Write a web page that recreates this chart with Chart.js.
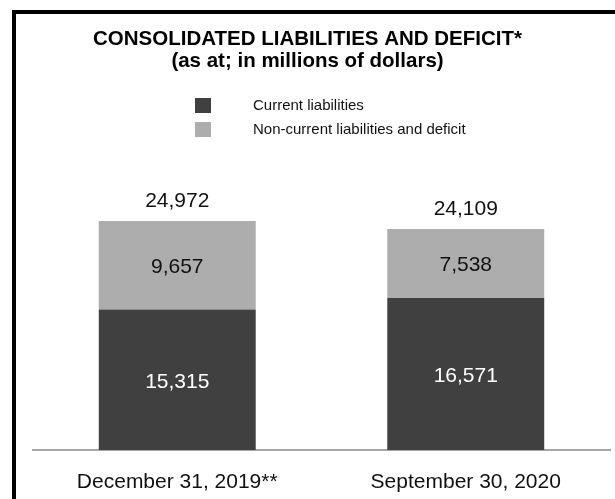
<!DOCTYPE html>
<html>
<head>
<meta charset="utf-8">
<script src="https://cdn.jsdelivr.net/npm/chart.js@4/dist/chart.umd.min.js"></script>
<style>
    body { margin: 0; overflow: hidden; background: #fff; }
    #frame {
        position: absolute; left: 12px; top: 10px;
        width: 640px; height: 520px;
        border-left: 4px solid #000; border-top: 4px solid #000;
    }
    #wrap { position: absolute; left: 0; top: 0; width: 615px; height: 499px; }
</style>
</head>
<body>
<div id="frame"></div>
<div id="wrap"><canvas id="barChart"></canvas></div>
<script>

// figures in millions of dollars
let dates = ["December 31, 2019**", "September 30, 2020"];
let currentLiab = [15315, 16571];
let nonCurrentLiab = [9657, 7538];
let seriesNames = ["Current liabilities", "Non-current liabilities and deficit"];
let seriesColors = ["#404040", "#adadad"];
let labelColors = ["#ffffff", "#111111"];
let titleLines = ["CONSOLIDATED LIABILITIES AND DEFICIT*", "(as at; in millions of dollars)"];

const FONT = "'Liberation Sans', Arial, Helvetica, sans-serif";

function fmt(v){
    return v.toLocaleString("en-US");
}

// empty side axes only used to reserve room left/right of the bars
function fixedWidth(w){
    return function(scale){ scale.width = w; };
}

// numbers inside each segment + total on top of each stack
const valueLabels = {
    id: "valueLabels",
    afterDatasetsDraw: function(chart){
        let ctx = chart.ctx;
        ctx.save();
        ctx.font = "21px " + FONT;
        ctx.textAlign = "center";
        ctx.textBaseline = "middle";

        chart.data.datasets.forEach(function(ds, i){
            let meta = chart.getDatasetMeta(i);
            meta.data.forEach(function(bar, j){
                let mid = (bar.y + bar.base) / 2;
                ctx.fillStyle = labelColors[i];
                ctx.fillText(fmt(ds.data[j]), bar.x, mid + 2);
            });
        });

        let lastMeta = chart.getDatasetMeta(chart.data.datasets.length - 1);
        lastMeta.data.forEach(function(bar, j){
            let total = 0;
            chart.data.datasets.forEach(function(ds){ total += ds.data[j]; });
            ctx.fillStyle = "#111111";
            ctx.fillText(fmt(total), bar.x, bar.y - 20);
        });
        ctx.restore();
    }
};

// stacked legend under the title
const boxLegend = {
    id: "boxLegend",
    afterDraw: function(chart){
        let ctx = chart.ctx;
        ctx.save();
        ctx.font = "15px " + FONT;
        ctx.textBaseline = "middle";
        ctx.textAlign = "left";
        chart.data.datasets.forEach(function(ds, i){
            let top = 98 + i * 24;
            ctx.fillStyle = ds.backgroundColor;
            ctx.fillRect(195, top, 16, 15);
            ctx.fillStyle = "#111111";
            ctx.fillText(ds.label, 253, top + 8);
        });
        ctx.restore();
    }
};

var barChart = new Chart(document.getElementById("barChart"), {
    type: "bar",
    data: {
        labels: dates,
        datasets: [
            {
                label: seriesNames[0],
                data: currentLiab,
                backgroundColor: seriesColors[0],
                barPercentage: 0.544,
                categoryPercentage: 1
            },
            {
                label: seriesNames[1],
                data: nonCurrentLiab,
                backgroundColor: seriesColors[1],
                barPercentage: 0.544,
                categoryPercentage: 1
            }
        ]
    },
    options: {
        responsive: true,
        maintainAspectRatio: false,
        animation: false,
        layout: {
            padding: { left: 0, right: 0, top: 0, bottom: 0 }
        },
        plugins: {
            legend: { display: false },
            tooltip: { enabled: false },
            title: {
                display: true,
                text: titleLines,
                color: "#000000",
                font: { family: FONT, size: 20.5, weight: "bold", lineHeight: 22 / 20.5 },
                padding: { top: 28, bottom: 103 }
            }
        },
        scales: {
            x: {
                stacked: true,
                grid: { display: false, drawTicks: false },
                border: { display: true, color: "#a6a6a6", width: 2 },
                ticks: {
                    color: "#111111",
                    padding: 20,
                    font: { family: FONT, size: 21 }
                },
                afterFit: function(scale){ scale.height = 49; }
            },
            y: {
                stacked: true,
                min: 0,
                max: 30000,
                grid: { display: false },
                border: { display: false },
                ticks: { display: false },
                afterFit: fixedWidth(33)
            },
            yRight: {
                type: "linear",
                position: "right",
                grid: { display: false },
                border: { display: false },
                ticks: { display: false },
                afterFit: fixedWidth(5)
            }
        }
    },
    plugins: [valueLabels, boxLegend]
});

</script>
</body>
</html>
